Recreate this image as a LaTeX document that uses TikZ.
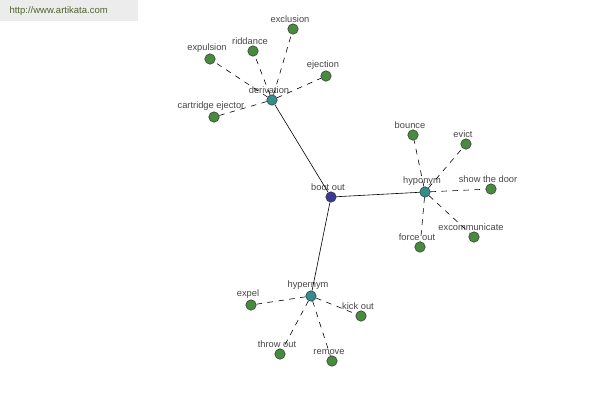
\documentclass[tikz,border=0pt]{standalone}
\usepackage{fontspec}
\setmainfont{Liberation Sans}
\usetikzlibrary{calc}
\definecolor{leafgreen}{RGB}{72,138,62}
\definecolor{hubteal}{RGB}{52,140,140}
\definecolor{rootblue}{RGB}{58,58,150}
\definecolor{wordgray}{RGB}{70,70,70}
\definecolor{markgray}{RGB}{236,236,236}
\definecolor{markgreen}{RGB}{80,100,50}
\tikzstyle{word}=[circle, draw=black!80, line width=0.5pt, inner sep=0pt,
  minimum size=10.5pt]
\tikzstyle{leaf}=[word, fill=leafgreen]
\tikzstyle{hub}=[word, fill=hubteal]
\tikzstyle{root}=[word, fill=rootblue]
\tikzstyle{lbl}=[text=wordgray, font=\fontsize{9.3}{10}\selectfont,
  inner sep=1pt, label distance=0pt, xshift=-3pt]
\tikzstyle{link}=[draw=black, line width=0.6pt]
\tikzstyle{rel}=[draw=black, line width=0.6pt, dash pattern=on 5.5pt off 5.5pt]

\begin{document}
\begin{tikzpicture}[x=1pt, y=-1pt]
  \useasboundingbox (0,0) rectangle (600,400);
  \fill[markgray] (0,0) rectangle (138,21);
  \node(mark)[anchor=west, text=markgreen, font=\fontsize{9.5}{10}\selectfont]
    at (6,11) {http://www.artikata.com};

  % central word and its three relations
  \node(boot)[root, label={[lbl]above:boot out}] at (331,197) {};
  \node(deriv)[hub, label={[lbl]above:derivation}] at (272,100) {};
  \node(hypo)[hub, label={[lbl]above:hyponym}] at (425,192) {};
  \node(hyper)[hub, label={[lbl]above:hypernym}] at (311,296) {};

  % derivation
  \node(exclusion)[leaf, label={[lbl]above:exclusion}] at (293,29) {};
  \node(riddance)[leaf, label={[lbl]above:riddance}] at (253,51) {};
  \node(expulsion)[leaf, label={[lbl]above:expulsion}] at (210,59) {};
  \node(ejection)[leaf, label={[lbl]above:ejection}] at (326,76) {};
  \node(cartridge)[leaf, label={[lbl]above:cartridge ejector}] at (214,117) {};

  % hyponym
  \node(bounce)[leaf, label={[lbl]above:bounce}] at (413,135) {};
  \node(evict)[leaf, label={[lbl]above:evict}] at (466,144) {};
  \node(door)[leaf, label={[lbl]above:show the door}] at (491,189) {};
  \node(excomm)[leaf, label={[lbl]above:excommunicate}] at (474,237) {};
  \node(force)[leaf, label={[lbl]above:force out}] at (420,247) {};

  % hypernym
  \node(expel)[leaf, label={[lbl]above:expel}] at (251,305) {};
  \node(kick)[leaf, label={[lbl]above:kick out}] at (361,316) {};
  \node(throw)[leaf, label={[lbl]above:throw out}] at (280,354) {};
  \node(remove)[leaf, label={[lbl]above:remove}] at (332,361) {};

  \path[link] (boot) -- (deriv);
  \path[link] (boot) -- (hypo);
  \path[link] (boot) -- (hyper);

  \foreach \w in {exclusion,riddance,expulsion,ejection,cartridge}
    \path[rel] (deriv) -- (\w);
  \foreach \w in {bounce,evict,door,excomm,force}
    \path[rel] (hypo) -- (\w);
  \foreach \w in {expel,kick,throw,remove}
    \path[rel] (hyper) -- (\w);
\end{tikzpicture}
\end{document}
